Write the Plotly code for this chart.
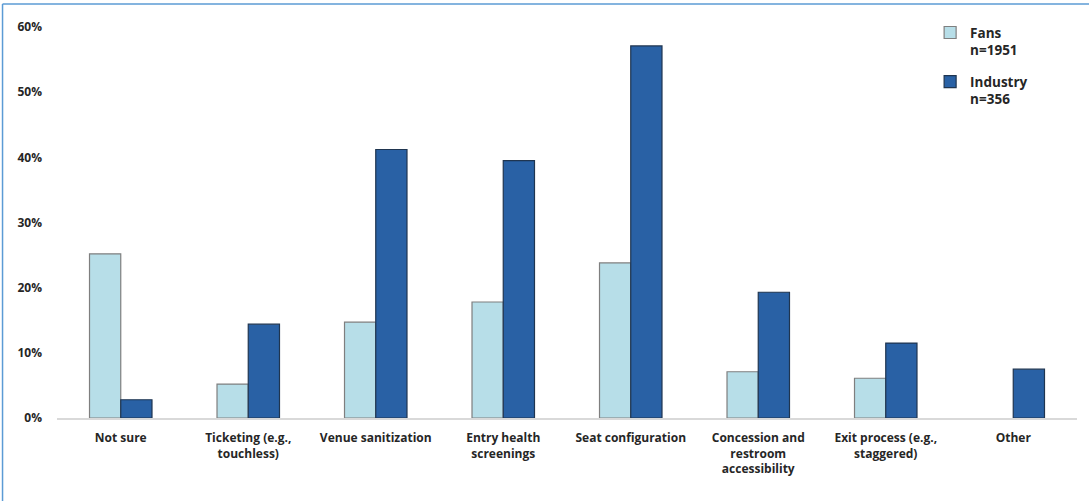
import plotly.graph_objects as go

categories = [
    "Not sure",
    "Ticketing (e.g.,<br>touchless)",
    "Venue sanitization",
    "Entry health<br>screenings",
    "Seat configuration",
    "Concession and<br>restroom<br>accessibility",
    "Exit process (e.g.,<br>staggered)",
    "Other",
]
fans = [0.252, 0.052, 0.147, 0.178, 0.238, 0.071, 0.061, None]
industry = [0.028, 0.144, 0.412, 0.395, 0.571, 0.193, 0.115, 0.075]
y_ticks = [0, 0.1, 0.2, 0.3, 0.4, 0.5, 0.6]

font_family = "Open Sans"
text_color = "#262626"

fig = go.Figure()
fig.add_trace(go.Bar(
    x=categories, y=fans, name="<b>Fans<br>n=1951</b>", legendgroup="fans",
    marker=dict(color="#B7DEE8", line=dict(color="#7F7F7F", width=1.2)),
))
fig.add_trace(go.Bar(
    x=categories, y=industry, name="<b>Industry<br>n=356</b>", legendgroup="industry",
    marker=dict(color="#2961A5", line=dict(color="#1F3550", width=1.2)),
))

fig.update_layout(
    width=1089, height=501,
    margin=dict(l=57, r=12, t=27, b=83),
    paper_bgcolor="white", plot_bgcolor="white",
    barmode="group", bargap=0.51, bargroupgap=0,
    font=dict(family=font_family, size=12, color=text_color),
    showlegend=True,
    legend=dict(
        x=0.856, y=1.025, xanchor="left", yanchor="top",
        valign="top", font=dict(size=13.5, color=text_color, family=font_family),
        itemwidth=30, tracegroupgap=11, bgcolor="rgba(0,0,0,0)",
    ),
    xaxis=dict(
        showgrid=False, showline=True, linecolor="#D9D9D9", linewidth=1.5,
        ticks="", tickfont=dict(size=12, family=font_family, weight="bold"),
        ticklabelstandoff=8,
    ),
    yaxis=dict(
        range=[0, 0.6], tickvals=y_ticks, tickformat=".0%",
        showgrid=False, zeroline=False, showline=False, ticks="",
        tickfont=dict(size=12, family=font_family, weight="bold"),
        ticklabelstandoff=14,
    ),
)

# thin blue frame along the top and left edges of the page
frame = dict(color="#5B9BD5", width=1.5)
fig.add_shape(type="line", xref="paper", yref="paper",
              x0=-0.0534, x1=1.05, y0=1.0588, y1=1.0588, line=frame)
fig.add_shape(type="line", xref="paper", yref="paper",
              x0=-0.0534, x1=-0.0534, y0=1.0588, y1=-0.3, line=frame)

fig.write_html("out.html")
